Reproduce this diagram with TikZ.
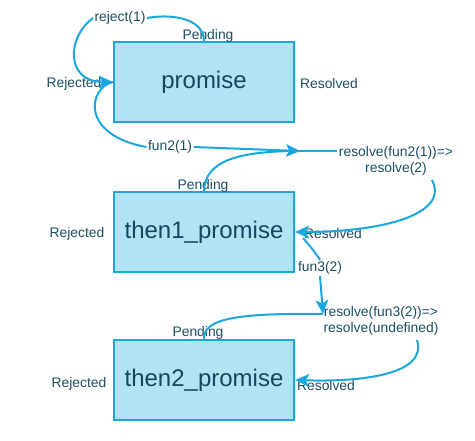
\documentclass[tikz,border=0pt]{standalone}
\usepackage{fontspec}
\setmainfont{Liberation Sans}
\usetikzlibrary{arrows.meta}
\definecolor{lineblue}{HTML}{1AA7DD}
\definecolor{boxfill}{HTML}{B1E3F4}
\definecolor{txt}{HTML}{1D4E62}
\definecolor{boxtxt}{HTML}{16455C}
\tikzset{
  statebox/.style={draw=lineblue, fill=boxfill, line width=1.6pt, minimum width=135pt, minimum height=60pt, inner sep=0pt, text=boxtxt, font=\fontsize{18}{21}\selectfont},
  lbl/.style={text=txt, font=\fontsize{10.4}{12.2}\selectfont, inner sep=1pt},
  conn/.style={draw=lineblue, line width=1.5pt},
  arr/.style={conn, -{Stealth[length=10.5pt,width=9.5pt,inset=2.5pt]}},
}
\begin{document}
\begin{tikzpicture}[x=0.75pt,y=-0.75pt]
\useasboundingbox (0,0) rectangle (475,440);
% boxes
\node[statebox] (p1) at (204,82) {promise};
\node[statebox] (p2) at (204,232) {then1\_promise};
\node[statebox] (p3) at (204,380) {then2\_promise};
% state labels
\node[lbl] (pend1) at (208,36) {Pending};
\node[lbl] (res1l) at (329,84) {Resolved};
\node[lbl] (rej1) at (74,84) {Rejected};
\node[lbl] (pend2) at (203,186) {Pending};
\node[lbl] (rej2) at (77,234) {Rejected};
\node[lbl] (res2l) at (333,234) {Resolved};
\node[lbl] (pend3) at (198,333) {Pending};
\node[lbl] (rej3) at (79,384) {Rejected};
\node[lbl] (res3l) at (326,386) {Resolved};
% edge labels
\node[lbl] (rejone) at (120,18) {reject(1)};
\node[lbl] (funtwo) at (170,147) {fun2(1)};
\node[lbl] (funthree) at (320,268) {fun3(2)};
\node[lbl, align=center] (resA) at (396,161) {resolve(fun2(1))=>\\resolve(2)};
\node[lbl, align=center] (resB) at (381,321) {resolve(fun3(2))=>\\resolve(undefined)};
\coordinate (X) at (300,151);
\coordinate (Y) at (323,314);
% connectors
\draw[conn] (p1.north) .. controls (204,20) and (175,13) .. (rejone.east);
\draw[arr] (rejone.west) .. controls (66,38) and (66,82) .. (p1.west);
\draw[conn] (p1.west) .. controls (88,88) and (80,135) .. (funtwo.west);
\draw[arr] (funtwo.east) -- (X);
\draw[conn] (X) -- (resA.west |- X);
\draw[conn] (p2.north) .. controls (205,160) and (240,151) .. (X);
\draw[arr] (432,180) .. controls (450,215) and (380,232) .. (p2.east);
\draw[conn] (303,238) .. controls (310,246) and (315,252) .. (funthree.north);
\draw[arr] (funthree.south) -- (Y);
\draw[conn] (p3.north) .. controls (203,318) and (240,313) .. (Y);
\draw[arr] (417,340) .. controls (428,375) and (360,382) .. (p3.east);
\end{tikzpicture}
\end{document}
